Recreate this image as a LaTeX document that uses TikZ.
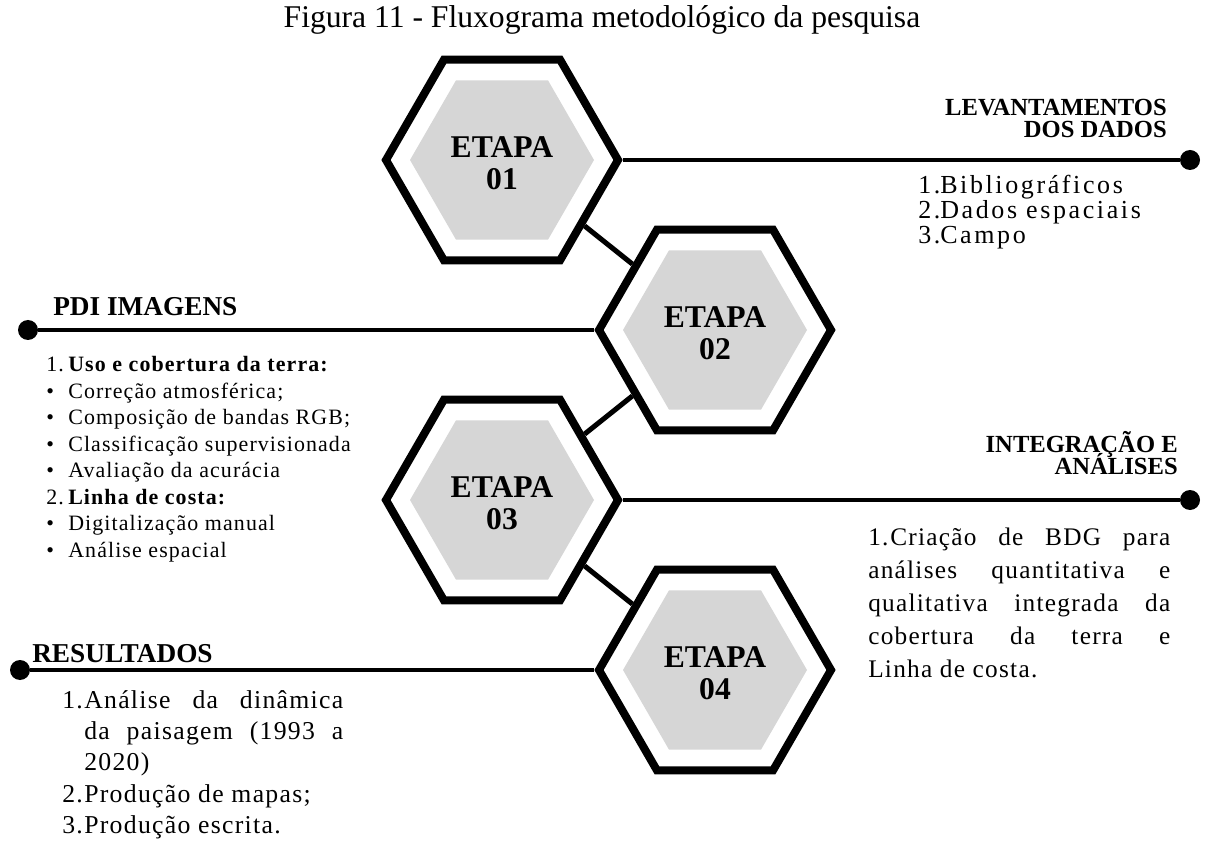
\documentclass[tikz,border=0pt]{standalone}
\usepackage{fontspec}
\setmainfont{Liberation Serif}
\newfontfamily\listfont[LetterSpace=5]{Liberation Serif}
\newfontfamily\widelistfont[LetterSpace=10]{Liberation Serif}
\usetikzlibrary{shapes.geometric}
\definecolor{hexgray}{RGB}{214,214,214}
\setlength{\lineskiplimit}{-20pt}
\setlength{\parindent}{0pt}
\newcommand{\lab}[1]{\makebox[0.55cm][l]{#1}}
\newcommand{\hitem}[1]{\noindent\hangindent=0.55cm\hangafter=1\lab{#1}}

\begin{document}
\begin{tikzpicture}[
    hexout/.style={regular polygon, regular polygon sides=6, draw, line width=5.7pt, minimum size=5.8cm, inner sep=0pt},
    hexin/.style={regular polygon, regular polygon sides=6, fill=hexgray, minimum size=4.6cm, inner sep=0pt, align=center, text height=42pt, text depth=0pt, font=\bfseries\fontsize{22.5}{22.8}\selectfont},
    link/.style={line width=3.6pt},
    tie/.style={line width=3.4pt},
    dot/.style={circle, fill, inner sep=0pt, minimum size=0.5cm},
    head/.style={inner sep=0pt, font=\bfseries\fontsize{17.5}{16}\selectfont},
    bighead/.style={inner sep=0pt, font=\bfseries\fontsize{19.4}{20}\selectfont},
    list/.style={inner sep=0pt, font=\listfont\fontsize{18}{23.5}\selectfont}
]
\useasboundingbox (0,0) rectangle (30.125,21);
\node[anchor=base, inner sep=0pt, font=\fontsize{22.5}{24}\selectfont] (title) at (15.05,20.3) {Figura 11 - Fluxograma metodológico da pesquisa};

% the four stages, zig-zag from top to bottom
\node[hexout] (e1) at (12.55,17) {};
\node[hexout] (e2) at (17.875,12.75) {};
\node[hexout] (e3) at (12.55,8.5) {};
\node[hexout] (e4) at (17.875,4.25) {};
\node[hexin] (t1) at (e1) {ETAPA\\01};
\node[hexin] (t2) at (e2) {ETAPA\\02};
\node[hexin] (t3) at (e3) {ETAPA\\03};
\node[hexin] (t4) at (e4) {ETAPA\\04};
\draw[link] (e1) -- (e2);
\draw[link] (e2) -- (e3);
\draw[link] (e3) -- (e4);

% lines out to the dots
\node[dot] (d1) at (29.75,17) {};
\node[dot] (d2) at (0.7,12.75) {};
\node[dot] (d3) at (29.75,8.5) {};
\node[dot] (d4) at (0.5,4.25) {};
\draw[tie] (e1.east) -- (d1);
\draw[tie] (e2.west) -- (d2);
\draw[tie] (e3.east) -- (d3);
\draw[tie] (e4.west) -- (d4);

% headings
\node[head, anchor=base east, align=right] (h1) at (29.175,17.55) {LEVANTAMENTOS\\DOS DADOS};
\node[bighead, anchor=base west] (h2) at (1.325,13.1) {PDI IMAGENS};
\node[head, anchor=base east, align=right] (h3) at (29.45,9.125) {INTEGRAÇÃO E\\ANÁLISES};
\node[bighead, anchor=base west] (h4) at (0.8,4.45) {RESULTADOS};

% lists under the headings
\node[list, anchor=base west, align=left, font=\widelistfont\fontsize{18.5}{17.8}\selectfont] (l1) at (22.95,14.9) {\lab{1.}Bibliográficos\\\lab{2.}Dados espaciais\\\lab{3.}Campo};
\node[list, anchor=base west, align=left, font=\listfont\fontsize{15.6}{18.8}\selectfont] (l2) at (1.15,7.075) {\lab{1.}\textbf{Uso e cobertura da  terra:}\\
    \lab{\textbullet}Correção atmosférica;\\
    \lab{\textbullet}Composição de bandas RGB;\\
    \lab{\textbullet}Classificação supervisionada\\
    \lab{\textbullet}Avaliação da acurácia\\
    \lab{2.}\textbf{Linha de costa:}\\
    \lab{\textbullet}Digitalização manual\\
    \lab{\textbullet}Análise espacial};
\node[list, anchor=base west, text width=7.55cm, align=justify] (l3) at (21.7,7.375) {\hitem{1.}Criação de BDG para\linebreak análises quantitativa e\linebreak qualitativa integrada da\linebreak cobertura da terra e\linebreak Linha de costa.};
\node[list, anchor=base west, text width=7.025cm, align=justify, font=\listfont\fontsize{18.3}{22.4}\selectfont] (l4) at (1.55,3.3) {\hitem{1.}Análise da dinâmica\linebreak da paisagem (1993 a\linebreak 2020)\par\hitem{2.}Produção de mapas;\par\hitem{3.}Produção escrita.};
\end{tikzpicture}
\end{document}
